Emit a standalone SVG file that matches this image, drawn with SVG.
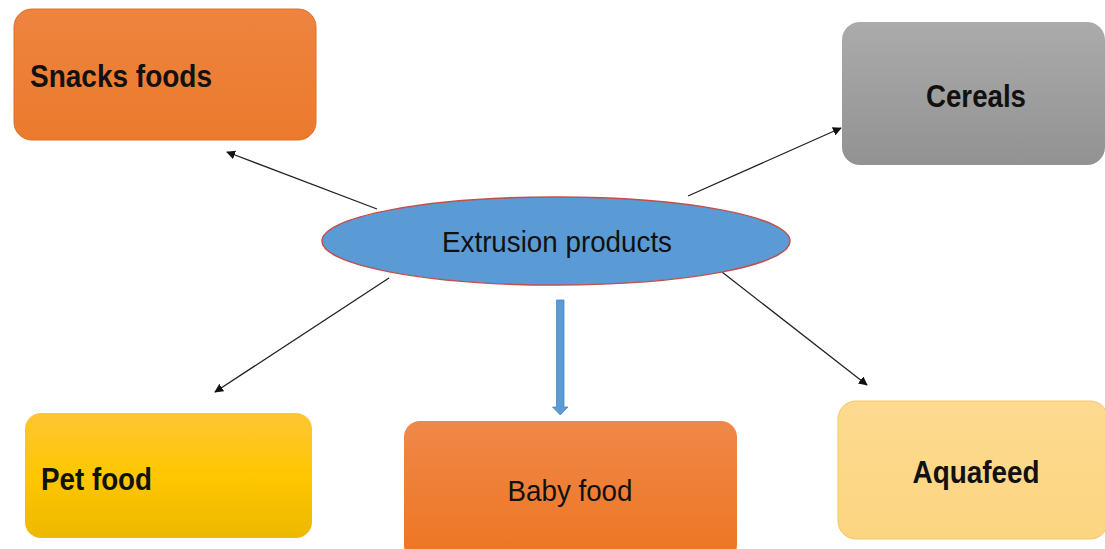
<svg xmlns="http://www.w3.org/2000/svg" width="1105" height="549" viewBox="0 0 1105 549">
<defs>
<linearGradient id="gOrange" x1="0" y1="0" x2="0" y2="1"><stop offset="0" stop-color="#EE8440"/><stop offset="1" stop-color="#EB7A2C"/></linearGradient>
<linearGradient id="gGray" x1="0" y1="0" x2="0" y2="1"><stop offset="0" stop-color="#ABABAB"/><stop offset="1" stop-color="#929292"/></linearGradient>
<linearGradient id="gYellow" x1="0" y1="0" x2="0" y2="1"><stop offset="0" stop-color="#FDC634"/><stop offset="0.5" stop-color="#FEC700"/><stop offset="1" stop-color="#EDB800"/></linearGradient>
<linearGradient id="gBaby" x1="0" y1="0" x2="0" y2="1"><stop offset="0" stop-color="#EF8848"/><stop offset="1" stop-color="#EE7522"/></linearGradient>
<linearGradient id="gAqua" x1="0" y1="0" x2="0" y2="1"><stop offset="0" stop-color="#FDDA90"/><stop offset="1" stop-color="#FCD580"/></linearGradient>
<marker id="ah" viewBox="0 0 10 10" refX="9" refY="5" markerWidth="9" markerHeight="9" markerUnits="userSpaceOnUse" orient="auto"><path d="M0,0 L10,5 L0,10 z" fill="#111"/></marker>
</defs>
<style>
.lbl{font-family:"Liberation Sans",Arial,sans-serif;fill:#111;}
.b{font-weight:bold;}
.conn{stroke:#222;stroke-width:1.3;fill:none;marker-end:url(#ah);}
</style>
<rect width="1105" height="549" fill="#fff"/>
<g id="connectors">
<line class="conn" x1="377" y1="209" x2="227" y2="152"/>
<line class="conn" x1="688" y1="196" x2="841" y2="128"/>
<line class="conn" x1="389" y1="278" x2="215" y2="392"/>
<line class="conn" x1="722" y1="272" x2="867" y2="385"/>
<polygon points="556.5,300 564,300 564,407 568,407 560.3,415 552.5,407 556.5,407" fill="#5B9BD5" stroke="#4A86C0" stroke-width="0.8"/>
</g>
<g id="snacks">
<rect x="14" y="9" width="302" height="131" rx="18" fill="url(#gOrange)" stroke="#D9702A" stroke-width="1"/>
<text class="lbl b" x="30" y="87" font-size="31" textLength="182" lengthAdjust="spacingAndGlyphs">Snacks foods</text>
</g>
<g id="cereals">
<rect x="842" y="22" width="263" height="143" rx="18" fill="url(#gGray)"/>
<text class="lbl b" x="976" y="107" font-size="31" text-anchor="middle" textLength="100" lengthAdjust="spacingAndGlyphs">Cereals</text>
</g>
<g id="extrusion">
<ellipse cx="556" cy="241" rx="234" ry="44" fill="#5B9BD5" stroke="#C0504D" stroke-width="1.5"/>
<text class="lbl" x="557" y="252" font-size="30" text-anchor="middle" textLength="230" lengthAdjust="spacingAndGlyphs">Extrusion products</text>
</g>
<g id="petfood">
<rect x="25" y="413" width="287" height="125" rx="16" fill="url(#gYellow)"/>
<text class="lbl b" x="41" y="490" font-size="31" textLength="111" lengthAdjust="spacingAndGlyphs">Pet food</text>
</g>
<g id="babyfood">
<rect x="404" y="421" width="333" height="140" rx="16" fill="url(#gBaby)"/>
<text class="lbl" x="570" y="501" font-size="30" text-anchor="middle" textLength="125" lengthAdjust="spacingAndGlyphs">Baby food</text>
</g>
<g id="aquafeed">
<rect x="838" y="401" width="270" height="138" rx="18" fill="url(#gAqua)" stroke="#F2C76A" stroke-width="1"/>
<text class="lbl b" x="976" y="483" font-size="31" text-anchor="middle" textLength="127" lengthAdjust="spacingAndGlyphs">Aquafeed</text>
</g>
</svg>
